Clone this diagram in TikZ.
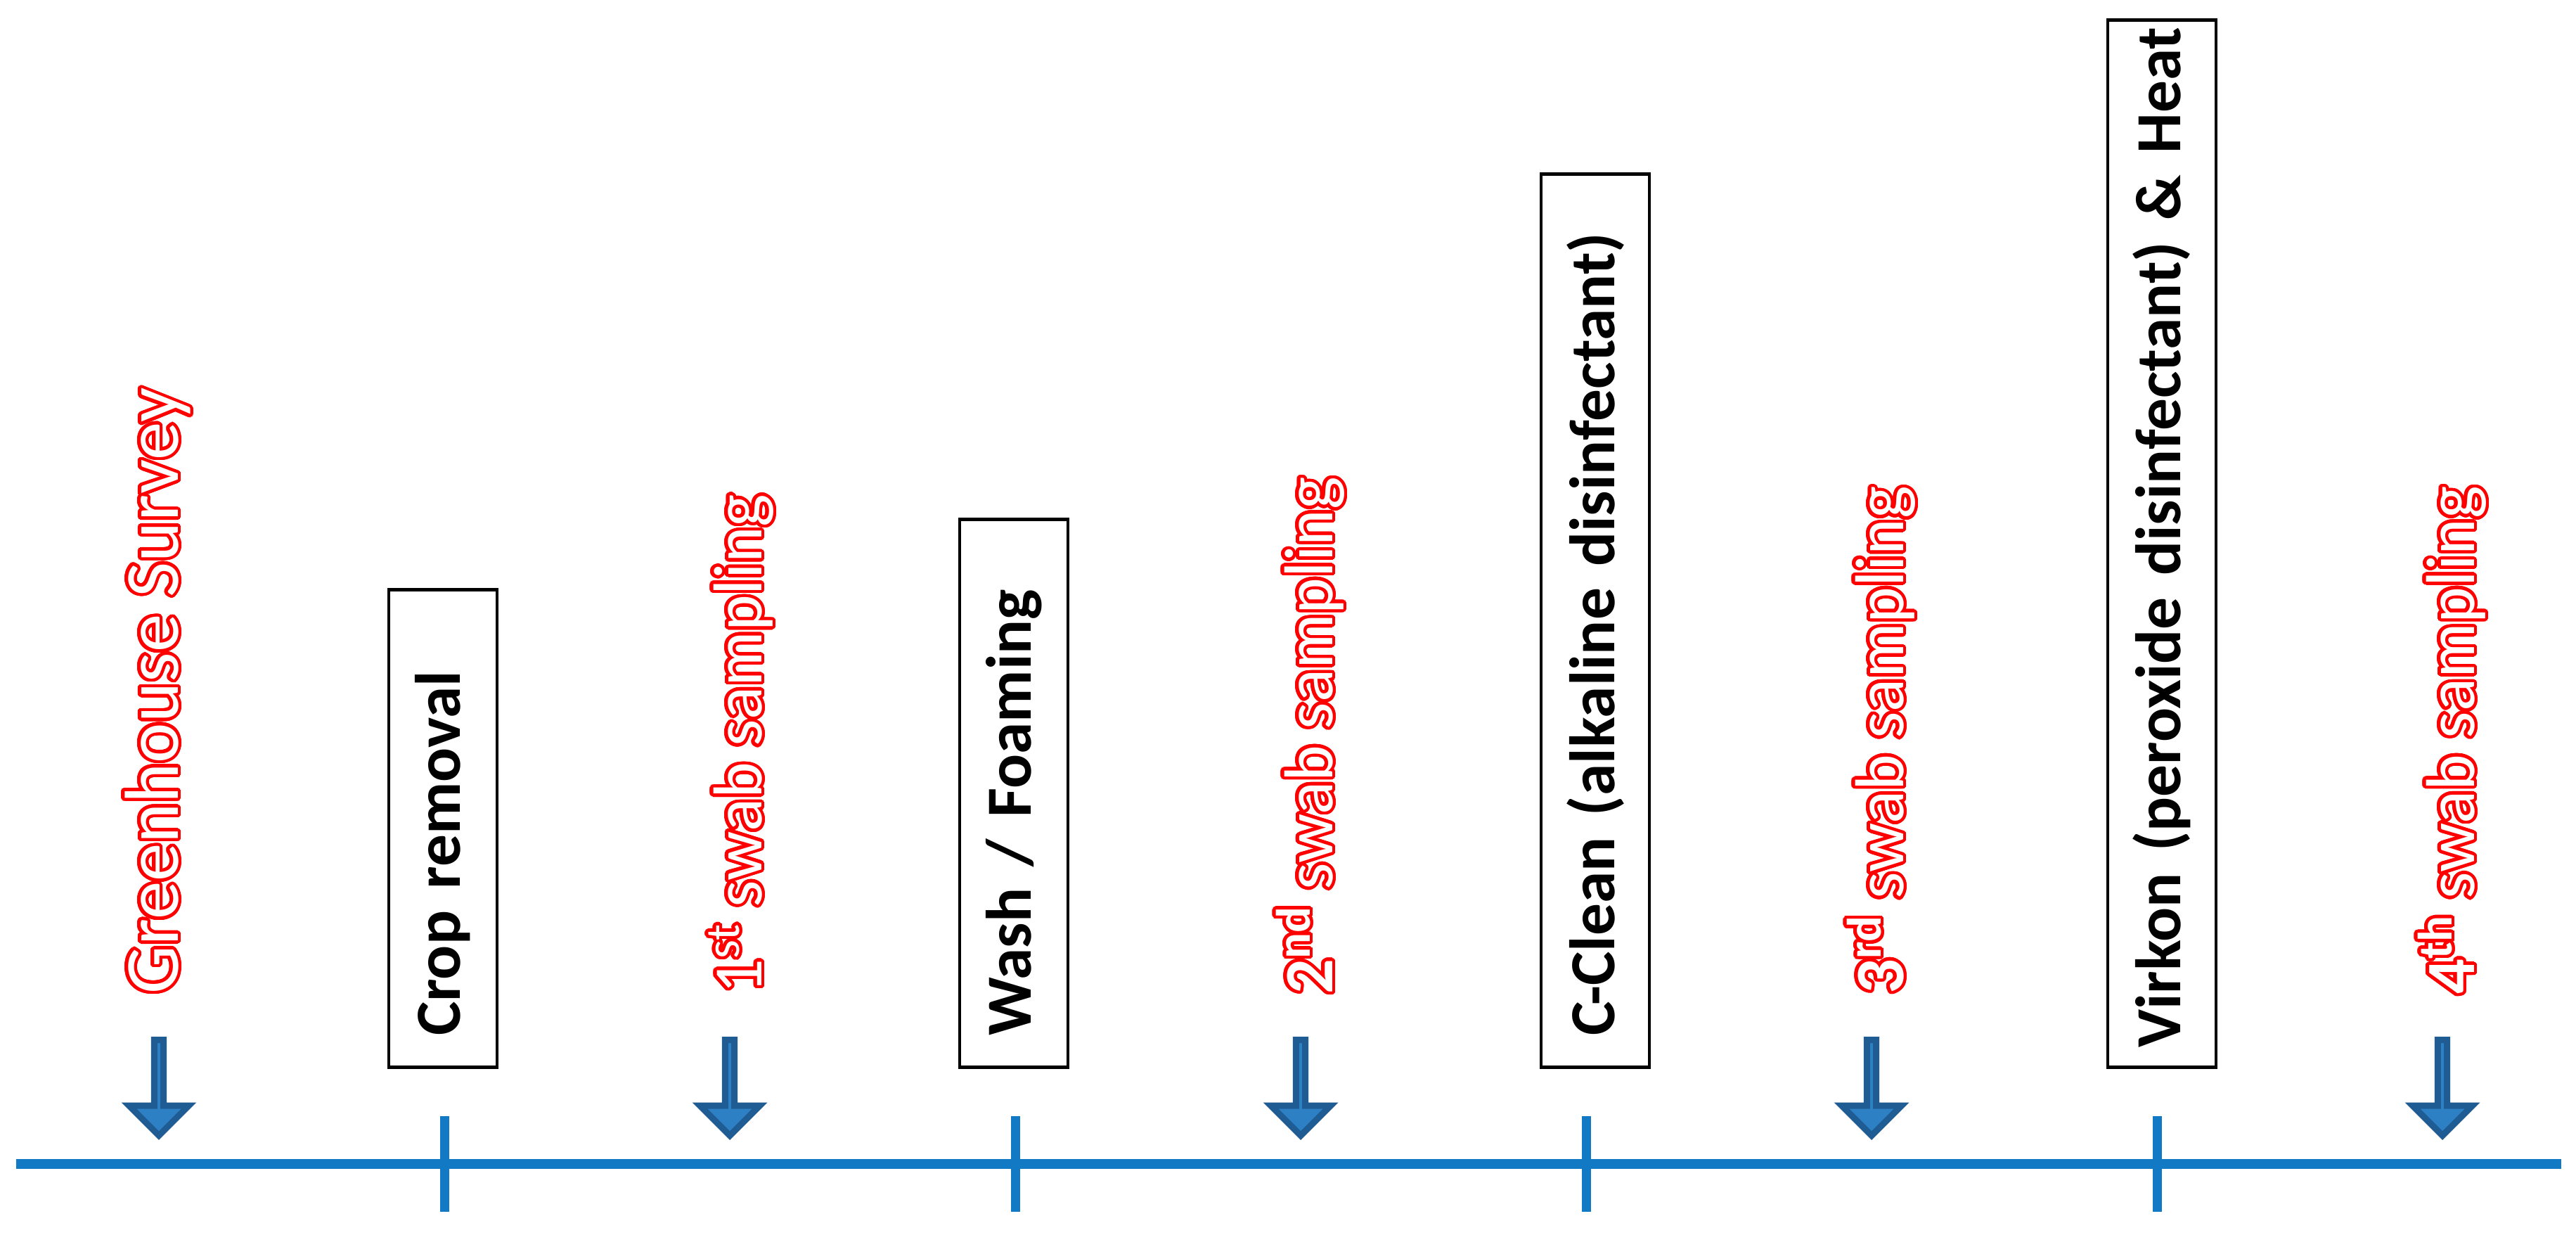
\documentclass[tikz,border=0pt]{standalone}
\usepackage{fontspec}
\setmainfont{Carlito}
\usepackage{contour}
\usetikzlibrary{shapes.arrows}
\contourlength{1.3pt}
\contournumber{32}
\definecolor{lineblue}{RGB}{18,122,196}
\definecolor{arrowfill}{RGB}{46,128,196}
\definecolor{arrowedge}{RGB}{31,92,148}
\newcommand{\redout}[1]{\contour{red}{\textcolor{white}{#1}}}

\begin{document}
\begin{tikzpicture}[
  timeline/.style={lineblue,line width=0.14cm},
  tickmark/.style={lineblue,line width=0.13cm},
  dnarrow/.style={single arrow,draw=arrowedge,fill=arrowfill,line width=0.09cm,
    minimum height=1.36cm,minimum width=0.85cm,single arrow head extend=0.245cm,
    inner sep=0pt,rotate=-90,anchor=tip},
  stepbox/.style={draw,line width=0.045cm,rotate=90,anchor=west,minimum height=1.54cm,
    inner xsep=0.45cm,inner ysep=0pt,align=left,font=\fontsize{26}{31}\selectfont\bfseries},
  swab/.style={rotate=90,anchor=base west,inner sep=0pt,font=\fontsize{28}{34}\selectfont}]
  \useasboundingbox (0,0) rectangle (36.64,17.56);

  \coordinate (tl0) at (0.23,1.01);
  \coordinate (tl1) at (36.43,1.01);
  \draw[timeline] (tl0) -- (tl1);
  \foreach \x in {6.32,14.44,22.56,30.68}
    \draw[tickmark] (\x,0.33) -- (\x,1.69);
  \foreach \x [count=\i] in {2.26,10.38,18.50,26.62,34.74}
    \node[dnarrow] (arr\i) at (\x,1.35) {};

  \node[stepbox,text width=5.89cm] (crop) at (6.30,2.36) {Crop removal};
  \node[stepbox,text width=6.89cm] (wash) at (14.42,2.36) {Wash / Foaming};
  \node[stepbox,text width=11.80cm] (cclean) at (22.69,2.36) {C-Clean (alkaline disinfectant)};
  \node[stepbox,text width=14.33cm,inner xsep=0.28cm] (virkon) at (30.75,2.36)
    {\mbox{Virkon (peroxide disinfectant) \& Heat}};

  \node[swab,font=\fontsize{31}{37}\selectfont] (survey) at (2.53,3.42) {\redout{Greenhouse Survey}};
  \node[swab] (swab1) at (10.83,3.42) {\redout{1\textsuperscript{st} swab sampling}};
  \node[swab] (swab2) at (18.95,3.42) {\redout{\textbf{2\textsuperscript{nd}} swab sampling}};
  \node[swab] (swab3) at (27.07,3.42) {\redout{\textbf{3\textsuperscript{rd}} swab sampling}};
  \node[swab] (swab4) at (35.19,3.42) {\redout{\textbf{4\textsuperscript{th}} swab sampling}};
\end{tikzpicture}
\end{document}
